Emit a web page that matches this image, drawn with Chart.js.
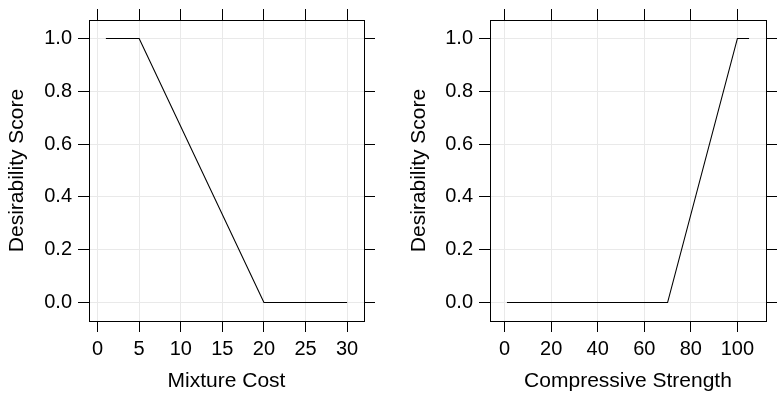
<!DOCTYPE html>
<html>
<head>
<meta charset="utf-8">
<script src="https://cdn.jsdelivr.net/npm/chart.js@4"></script>
<style>
  body { margin: 0; background: #fff; }
  .panel { position: absolute; top: 0; }
</style>
</head>
<body>
<div class="panel" style="left:0"><canvas id="costChart" width="390" height="398"></canvas></div>
<div class="panel" style="left:390px"><canvas id="strengthChart" width="391" height="398"></canvas></div>
<script>
const costX = [1, 5, 20, 30]
const costScore = [1, 1, 0, 0]
const strengthX = [1, 70, 100, 105]
const strengthScore = [0, 0, 1, 1]
const costTicks = [0, 5, 10, 15, 20, 25, 30]
const strengthTicks = [0, 20, 40, 60, 80, 100]
const scoreTicks = [0, 0.2, 0.4, 0.6, 0.8, 1.0]

const fontFamily = "'Liberation Sans', Arial, Helvetica, sans-serif"
const gridColor = '#e9e9e9'

// one scale: position decides whether it shows labels or just tick marks
const makeScale = (axis, position, min, max, tickVals, size, extra = {}) => {
    const labelled = position === 'bottom' || position === 'left'
    return {
        type: 'linear',
        axis: axis,
        position: position,
        min: min,
        max: max,
        afterBuildTicks: (scale) => {
            scale.ticks = tickVals.map(v => ({ value: v }))
        },
        afterFit: (scale) => {
            if (axis === 'x') scale.height = size
            else scale.width = size
        },
        grid: {
            display: true,
            drawOnChartArea: labelled,
            color: gridColor,
            lineWidth: 1,
            drawTicks: true,
            tickLength: 11,
            tickColor: '#000',
            tickWidth: 1
        },
        border: { display: true, color: '#000', width: 1 },
        ticks: {
            display: labelled,
            color: '#000',
            padding: axis === 'x' ? 5.5 : 6,
            font: { family: fontFamily, size: 20 },
            callback: axis === 'y' ? (v) => v.toFixed(1) : (v) => String(v)
        },
        ...extra
    }
}

const makePanel = (id, xs, ys, xTicks, xMin, xMax, xTitle, padLeft, leftWidth, rightWidth) => {
    const points = xs.map((x, i) => ({ x: x, y: ys[i] }))
    new Chart(document.getElementById(id), {
        type: 'line',
        data: {
            datasets: [{
                data: points,
                borderColor: '#000',
                borderWidth: 1.1,
                pointRadius: 0,
                tension: 0,
                fill: false
            }]
        },
        options: {
            responsive: false,
            animation: false,
            layout: { padding: { left: padLeft, right: 0, top: 0, bottom: 0 } },
            plugins: { legend: { display: false }, tooltip: { enabled: false } },
            scales: {
                x: makeScale('x', 'bottom', xMin, xMax, xTicks, 77, {
                    title: {
                        display: true, text: xTitle, color: '#000',
                        font: { family: fontFamily, size: 21 },
                        padding: { top: 0, bottom: 4.5 }
                    }
                }),
                xTop: makeScale('x', 'top', xMin, xMax, xTicks, 20),
                y: makeScale('y', 'left', -0.07, 1.07, scoreTicks, leftWidth, {
                    title: {
                        display: true, text: 'Desirability Score', color: '#000',
                        font: { family: fontFamily, size: 21 },
                        padding: { top: 5, bottom: 0 }
                    }
                }),
                yRight: makeScale('y', 'right', -0.07, 1.07, scoreTicks, rightWidth)
            }
        }
    })
}

makePanel('costChart', costX, costScore, costTicks, -1.03, 32.03, 'Mixture Cost', 0, 89, 26)
makePanel('strengthChart', strengthX, strengthScore, strengthTicks, -6.28, 112.28, 'Compressive Strength', 12, 88, 15)
</script>
</body>
</html>
